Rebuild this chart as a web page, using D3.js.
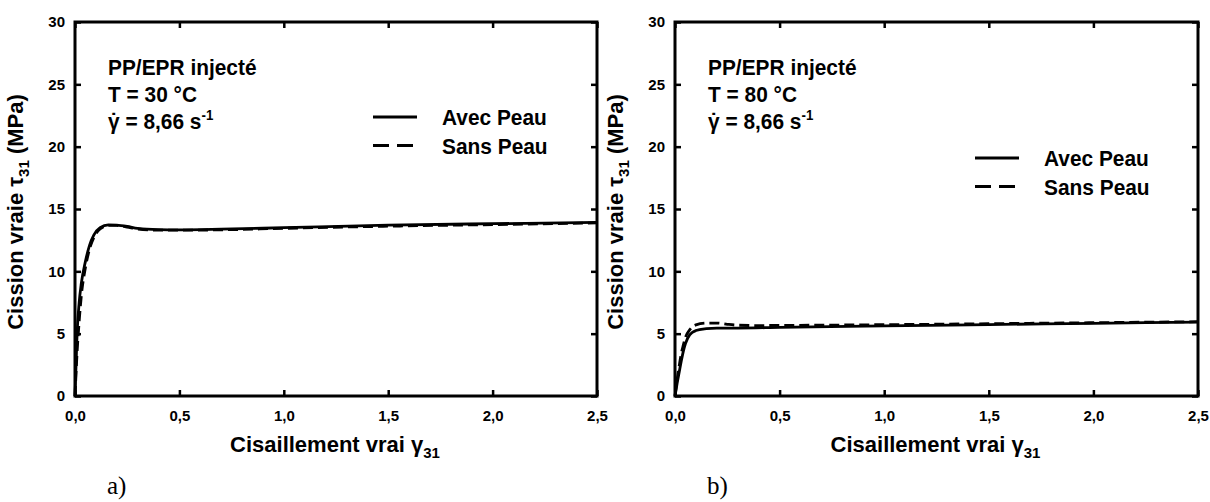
<!DOCTYPE html>
<html><head><meta charset="utf-8">
<script src="https://cdn.jsdelivr.net/npm/d3@7"></script>
<style>
html,body{margin:0;padding:0;background:#fff;}
text{font-family:"Liberation Sans",Arial,sans-serif;font-weight:bold;fill:#000;}
</style></head>
<body><svg id="c" width="1210" height="502"></svg>
<script>
// ---- data ----
const xTicks = [0, 0.5, 1.0, 1.5, 2.0, 2.5];
const yTicks = [0, 5, 10, 15, 20, 25, 30];

const strainAvecA = [0, 0.005, 0.01, 0.02, 0.03, 0.05, 0.07, 0.09, 0.12, 0.16, 0.2, 0.25, 0.3, 0.4, 0.5, 0.7, 1.0, 1.5, 2.0, 2.5];
const avecA       = [0, 2.5, 5.0, 7.5, 9.0, 10.8, 12.1, 12.9, 13.5, 13.72, 13.7, 13.6, 13.45, 13.35, 13.33, 13.38, 13.5, 13.7, 13.82, 13.92];
const strainSansA = [0, 0.01, 0.02, 0.03, 0.05, 0.07, 0.09, 0.12, 0.16, 0.2, 0.25, 0.3, 0.4, 0.5, 0.7, 1.0, 1.5, 2.0, 2.5];
const sansA       = [0, 3.5, 6.0, 8.0, 10.3, 11.8, 12.7, 13.4, 13.68, 13.68, 13.55, 13.4, 13.3, 13.3, 13.33, 13.45, 13.62, 13.75, 13.88];

const strainAvecB = [0, 0.01, 0.02, 0.03, 0.04, 0.05, 0.07, 0.1, 0.15, 0.2, 0.3, 0.5, 1.0, 1.5, 2.0, 2.5];
const avecB       = [0, 1.0, 1.9, 2.8, 3.6, 4.2, 4.9, 5.25, 5.4, 5.45, 5.45, 5.5, 5.62, 5.73, 5.83, 5.93];
const strainSansB = [0, 0.01, 0.02, 0.03, 0.04, 0.05, 0.07, 0.1, 0.15, 0.2, 0.25, 0.3, 0.4, 0.5, 1.0, 1.5, 2.0, 2.5];
const sansB       = [0, 1.3, 2.4, 3.4, 4.1, 4.7, 5.3, 5.7, 5.85, 5.85, 5.75, 5.68, 5.65, 5.66, 5.72, 5.8, 5.88, 5.96];

const panels = [
  {left: 75, right: 597, temp: "T = 30 °C", label: "a)", sx: strainAvecA, sa: avecA, sxs: strainSansA, ss: sansA, legX: 373, legY: 117},
  {left: 675, right: 1198, temp: "T = 80 °C", label: "b)", sx: strainAvecB, sa: avecB, sxs: strainSansB, ss: sansB, legX: 975, legY: 158}
];

const svg = d3.select("#c");
const yTop = 22, yBottom = 396;
const fmt = d => d3.format(".1f")(d).replace(".", ",");
const SX = 0.95;

panels.forEach(p => {
  const x = d3.scaleLinear().domain([0, 2.5]).range([p.left, p.right]);
  const y = d3.scaleLinear().domain([0, 30]).range([yBottom, yTop]);
  const g = svg.append("g");

  const ax = [
    {a: d3.axisBottom(x).tickValues(xTicks).tickSize(-6).tickFormat(fmt), t: `translate(0,${yBottom})`},
    {a: d3.axisTop(x).tickValues(xTicks).tickSize(-6).tickFormat(""), t: `translate(0,${yTop})`},
    {a: d3.axisLeft(y).tickValues(yTicks).tickSize(-6).tickFormat(d3.format("d")), t: `translate(${p.left},0)`},
    {a: d3.axisRight(y).tickValues(yTicks).tickSize(-6).tickFormat(""), t: `translate(${p.right},0)`}
  ];
  ax.forEach((o, i) => {
    const ag = g.append("g").attr("transform", o.t).call(o.a.tickPadding(i === 0 ? 14 : 10));
    ag.select(".domain").remove();
    ag.selectAll(".tick line").attr("stroke", "#000").attr("stroke-width", 2.5);
    ag.selectAll(".tick text").style("font-size", "15px").style("font-family", "'Liberation Sans',Arial,sans-serif").style("font-weight", "bold").attr("fill", "#000");
  });
  g.append("rect").attr("x", p.left).attr("y", yTop).attr("width", p.right - p.left).attr("height", yBottom - yTop)
    .attr("fill", "none").attr("stroke", "#000").attr("stroke-width", 3);

  const line = d3.line().x(d => x(d[0])).y(d => y(d[1])).curve(d3.curveMonotoneX);
  g.append("path").datum(p.sx.map((v, i) => [v, p.sa[i]])).attr("d", line)
    .attr("fill", "none").attr("stroke", "#000").attr("stroke-width", 2.8);
  g.append("path").datum(p.sxs.map((v, i) => [v, p.ss[i]])).attr("d", line)
    .attr("fill", "none").attr("stroke", "#000").attr("stroke-width", 2.8).attr("stroke-dasharray", "10,5");

  const xt = g.append("text").attr("x", (p.left + p.right) / 2 - 1).attr("y", 452).attr("text-anchor", "middle").style("font-size", "22px");
  xt.append("tspan").text("Cisaillement vrai γ");
  xt.append("tspan").text("31").style("font-size", "15px").attr("dy", 6);

  const yt = g.append("text").attr("transform", `translate(${p.left - 52},${(yTop + yBottom) / 2 + 3}) rotate(-90)`).attr("text-anchor", "middle").style("font-size", "22px");
  yt.append("tspan").text("Cission vraie τ");
  yt.append("tspan").text("31").style("font-size", "15px").attr("dy", 6);
  yt.append("tspan").text(" (MPa)").attr("dy", -6);

  const ann = g.append("g").attr("transform", `translate(${p.left + 33},0) scale(${SX},1)`);
  ann.append("text").attr("y", 75).style("font-size", "22px").text("PP/EPR injecté");
  ann.append("text").attr("y", 102).style("font-size", "22px").text(p.temp);
  const gt = ann.append("text").attr("y", 129).style("font-size", "22px");
  gt.append("tspan").text("γ");
  const dot = gt.append("tspan").text("˙");
  const rest = gt.append("tspan").text(" = 8,66 s");
  gt.append("tspan").text("-1").style("font-size", "14px").attr("dy", -9);
  const gw = gt.node().getSubStringLength(0, 1);
  const dw = gt.node().getSubStringLength(1, 1);
  dot.attr("dx", -gw / 2 - dw / 2);
  rest.attr("dx", gw / 2 - dw / 2);

  [["Avec Peau", null], ["Sans Peau", "16,8"]].forEach((e, i) => {
    const ly = p.legY + i * 28.5;
    g.append("line").attr("x1", p.legX).attr("x2", p.legX + 44).attr("y1", ly).attr("y2", ly)
      .attr("stroke", "#000").attr("stroke-width", 2.8).attr("stroke-dasharray", e[1]);
    g.append("text").attr("transform", `translate(${p.legX + 69},${ly + 8}) scale(${SX},1)`).style("font-size", "22px").text(e[0]);
  });

  svg.append("text").attr("x", p.left + 32).attr("y", 494)
    .style("font-family", "'Liberation Serif','Times New Roman',serif").style("font-weight", "normal").style("font-size", "25px").text(p.label);
});
</script></body></html>
